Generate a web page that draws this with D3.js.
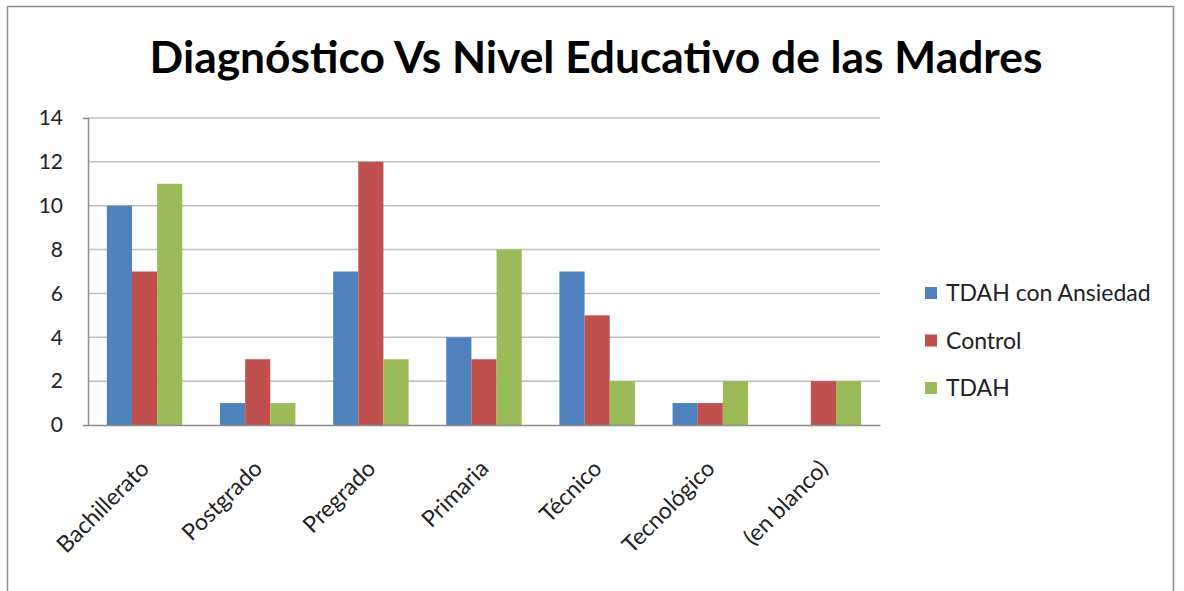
<!DOCTYPE html>
<html><head><meta charset="utf-8">
<script src="https://cdn.jsdelivr.net/npm/d3@7"></script>
<style>body{margin:0;background:#fff;} svg{display:block;font-family:Lato,"Open Sans",sans-serif;}</style>
</head><body>
<svg id="c" width="1184" height="591"></svg>
<script>
const categories = ["Bachillerato","Postgrado","Pregrado","Primaria","Técnico","Tecnológico","(en blanco)"];
const seriesNames = ["TDAH con Ansiedad","Control","TDAH"];
const ansiedad = [10,1,7,4,7,1,0];
const control = [7,3,12,3,5,1,2];
const tdah = [11,1,3,8,2,2,2];
const yTicks = [0,2,4,6,8,10,12,14];
const colors = ["#4F81BD","#C0504D","#9BBB59"];
const title = "Diagnóstico Vs Nivel Educativo de las Madres";

const seriesVals = [ansiedad, control, tdah];
const svg = d3.select("#c");
// outer frame
svg.append("rect").attr("x",7.5).attr("y",6.5).attr("width",1166).attr("height",600)
  .attr("fill","#fff").attr("stroke","#8c8c8c").attr("stroke-width",1.5);

const L=88, R=880, T=118, B=425;
const x0 = d3.scaleBand().domain(categories).range([L,R]).padding(0);
const bw = x0.bandwidth();
const x1 = d3.scaleBand().domain(seriesNames).range([bw/6, bw*5/6]).padding(0);
const y = d3.scaleLinear().domain([0,14]).range([B,T]);

// gridlines
svg.append("g").selectAll("line").data(yTicks.filter(d=>d>0)).join("line")
  .attr("x1",L).attr("x2",R).attr("y1",d=>y(d)).attr("y2",d=>y(d))
  .attr("stroke","#bdbdbd").attr("stroke-width",1.5);

// bars
const g = svg.append("g");
categories.forEach((c,i)=>{
  seriesNames.forEach((s,j)=>{
    const v = seriesVals[j][i];
    if(v<=0) return;
    g.append("rect").attr("x",x0(c)+x1(s)).attr("width",x1.bandwidth())
      .attr("y",y(v)).attr("height",y(0)-y(v)).attr("fill",colors[j]);
  });
});

// axes
const yAxis = d3.axisLeft(y).tickValues(yTicks).tickSize(5).tickPadding(20);
const ya = svg.append("g").attr("transform",`translate(${L},0)`).call(yAxis);
ya.select(".domain").attr("stroke","#8c8c8c").attr("stroke-width",1.5);
ya.selectAll(".tick line").attr("stroke","none");
ya.selectAll("text").attr("font-size",21).attr("fill","#222").attr("font-family","Lato,'Open Sans',sans-serif");

const xAxis = d3.axisBottom(x0).tickSize(0).tickPadding(0);
const xa = svg.append("g").attr("transform",`translate(0,${B})`).call(xAxis);
xa.select(".domain").attr("stroke","#8c8c8c").attr("stroke-width",1.5);
xa.selectAll("text").attr("font-size",23).attr("fill","#222")
  .attr("font-family","Lato,'Open Sans',sans-serif")
  .attr("text-anchor","end").attr("dy",0)
  .attr("transform","translate(6,45) rotate(-45)");

// title
const t = svg.append("text").attr("x",596).attr("y",73).attr("text-anchor","middle")
  .attr("font-weight","bold").attr("font-size",40).attr("fill","#000").text(title);
const tl = t.node().getComputedTextLength();
t.attr("font-size", 40*893/tl);

// legend
const lg = svg.append("g");
seriesNames.forEach((s,j)=>{
  const yy = 293 + j*47.5;
  lg.append("rect").attr("x",925).attr("y",yy-6).attr("width",12).attr("height",12).attr("fill",colors[j]);
  lg.append("text").attr("x",946).attr("y",yy).attr("dy","0.35em").attr("font-size",23)
    .attr("fill","#222").text(s);
});
</script>
</body></html>
